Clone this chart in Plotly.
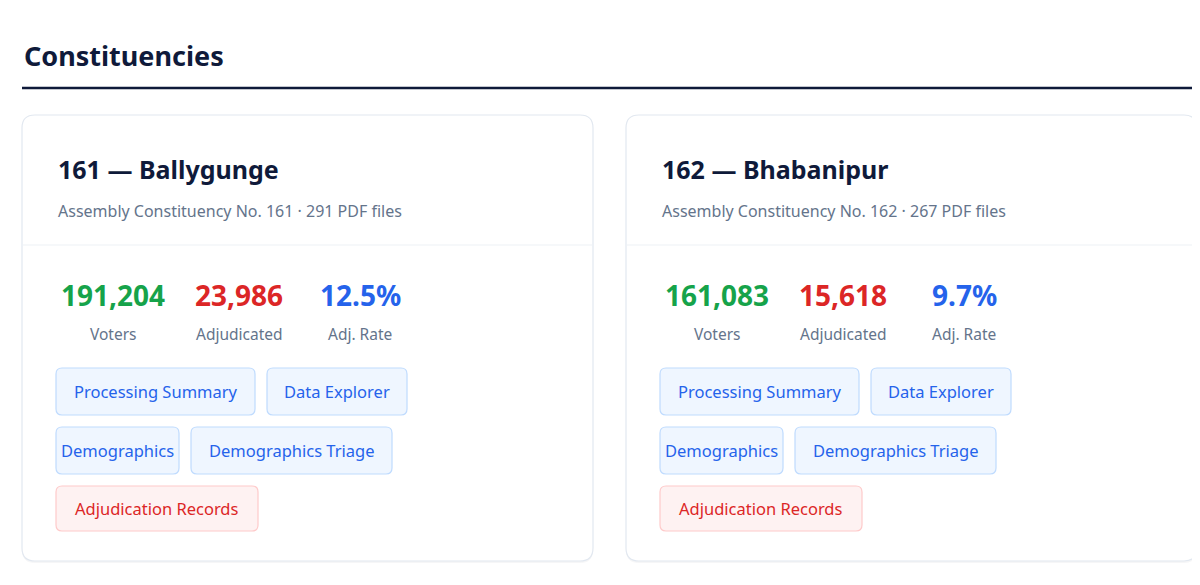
import plotly.graph_objects as go

# data
numbers = [161, 162]
names = ["Ballygunge", "Bhabanipur"]
pdf_files = [291, 267]
voters = [191204, 161083]
adjudicated = [23986, 15618]
adj_rate = [12.5, 9.7]
stat_labels = ["Voters", "Adjudicated", "Adj. Rate"]
button_rows = [["Processing Summary", "Data Explorer"],
               ["Demographics", "Demographics Triage"],
               ["Adjudication Records"]]

W, H = 1200, 585
FONT = "Noto Sans"
DARK = "#0f1a3a"
GREY = "#64748b"
BLUE = "#2563eb"
RED = "#dc2626"
GREEN = "#16a34a"

# button widths in px (layout only)
btn_w = {"Processing Summary": 199, "Data Explorer": 140, "Demographics": 123,
         "Demographics Triage": 201, "Adjudication Records": 202}


def rrect(x0, y0, x1, y1, r):
    return (f"M{x0+r},{y0} L{x1-r},{y0} Q{x1},{y0} {x1},{y0+r} L{x1},{y1-r} "
            f"Q{x1},{y1} {x1-r},{y1} L{x0+r},{y1} Q{x0},{y1} {x0},{y1-r} "
            f"L{x0},{y0+r} Q{x0},{y0} {x0+r},{y0} Z")


fig = go.Figure()
fig.add_trace(go.Scatter(x=[0, W], y=[0, H], mode="markers", marker=dict(opacity=0), hoverinfo="skip"))

shapes = []
ann = []

ann.append(dict(x=14, y=47, text="<b>Constituencies</b>", xanchor="left", yanchor="middle",
                font=dict(size=27, color=DARK, family=FONT)))
shapes.append(dict(type="line", x0=14, x1=1188, y0=80, y1=80, line=dict(color=DARK, width=2.5)))

for i in range(len(names)):
    cx = 14 + i * 604
    # shadow + card
    shapes.append(dict(type="path", path=rrect(cx, 109, cx + 571, 555, 13),
                       fillcolor="rgba(15,23,42,0.04)", line=dict(width=0), layer="below"))
    shapes.append(dict(type="path", path=rrect(cx, 107, cx + 571, 553, 13),
                       fillcolor="white", line=dict(color="#e2e8f0", width=1.2), layer="below"))
    shapes.append(dict(type="line", x0=cx, x1=cx + 571, y0=237, y1=237,
                       line=dict(color="#eef1f5", width=1.2)))
    ann.append(dict(x=cx + 34, y=161, text=f"<b>{numbers[i]} — {names[i]}</b>",
                    xanchor="left", yanchor="middle", font=dict(size=25, color=DARK, family=FONT)))
    ann.append(dict(x=cx + 34, y=203,
                    text=f"Assembly Constituency No. {numbers[i]} · {pdf_files[i]} PDF files",
                    xanchor="left", yanchor="middle", font=dict(size=16, color=GREY, family=FONT)))
    vals = [f"{voters[i]:,}", f"{adjudicated[i]:,}", f"{adj_rate[i]}%"]
    cols = [GREEN, RED, BLUE]
    for k, off in enumerate([91, 217, 338]):
        ann.append(dict(x=cx + off, y=287, text=f"<b>{vals[k]}</b>", xanchor="center", yanchor="middle",
                        font=dict(size=28, color=cols[k], family=FONT)))
        ann.append(dict(x=cx + off, y=326, text=stat_labels[k], xanchor="center", yanchor="middle",
                        font=dict(size=15.5, color=GREY, family=FONT)))
    row_y = [(360, 407), (419, 466), (478, 523)]
    for r, row in enumerate(button_rows):
        bx = cx + 34
        y0, y1 = row_y[r]
        for lab in row:
            red = lab.startswith("Adjudication")
            w = btn_w[lab]
            shapes.append(dict(type="path", path=rrect(bx, y0, bx + w, y1, 6),
                               fillcolor="#fef2f2" if red else "#eff6ff",
                               line=dict(color="#fecaca" if red else "#bfdbfe", width=1.2)))
            ann.append(dict(x=bx + w / 2, y=(y0 + y1) / 2, text=lab, xanchor="center", yanchor="middle",
                            font=dict(size=16.5, color=RED if red else BLUE, family=FONT)))
            bx += w + 12

for a in ann:
    a.update(xref="x", yref="y", showarrow=False)

fig.update_layout(
    width=W, height=H, margin=dict(l=0, r=0, t=0, b=0),
    plot_bgcolor="white", paper_bgcolor="white", showlegend=False,
    shapes=shapes, annotations=ann,
    xaxis=dict(range=[0, W], visible=False, fixedrange=True),
    yaxis=dict(range=[H, 0], visible=False, fixedrange=True),
)
fig.write_html("out.html", config={"displayModeBar": False})
